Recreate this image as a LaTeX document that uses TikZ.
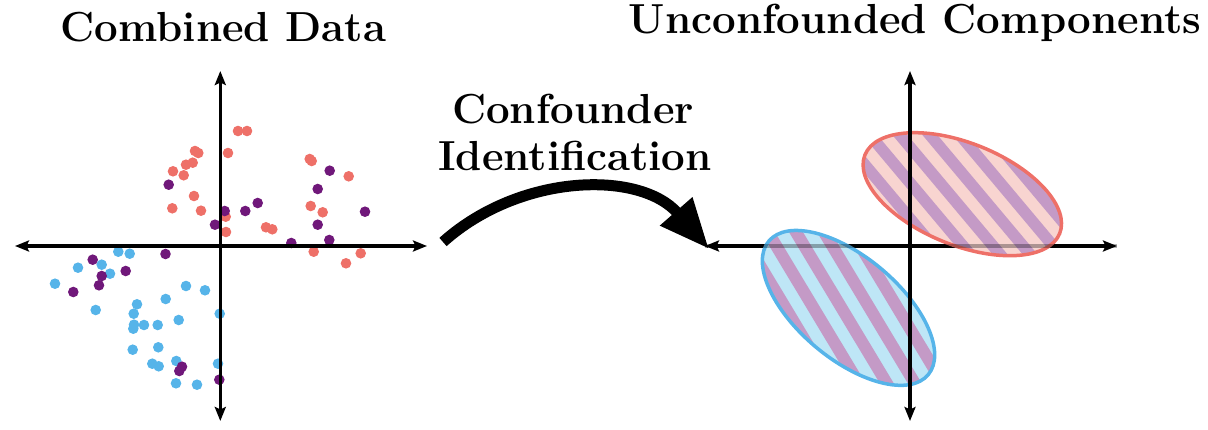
\documentclass[tikz,border=0pt]{standalone}
\usetikzlibrary{arrows.meta}
\definecolor{dred}{RGB}{238,112,104}
\definecolor{dblue}{RGB}{86,180,233}
\definecolor{dpurp}{RGB}{112,24,122}
\definecolor{pinkfill}{RGB}{248,212,208}
\definecolor{bluefill}{RGB}{190,230,246}
\definecolor{stripec}{RGB}{196,154,198}
\tikzset{
  axisline/.style={line width=3.2pt,{Stealth[length=14pt,width=11pt,inset=2.5pt]}-{Stealth[length=14pt,width=11pt,inset=2.5pt]}},
  titletext/.style={font=\fontsize{42}{48}\selectfont\bfseries,inner sep=0pt,anchor=base},
  dotr/.style={fill=dred},
  dotb/.style={fill=dblue},
  dotp/.style={fill=dpurp},
  stripe/.style={fill=stripec},
}
\begin{document}
\begin{tikzpicture}[x=1pt,y=-1pt]
\useasboundingbox (0,0) rectangle (1208,430);
% ---------- left: scatter ----------
\foreach \px/\py in {238/131,247/131,195/151,198.3/153,228/153,186/164.7,192.7/162.7,173/171.3,183.7/175.3,309.7/159,311.7/161,348.7/176.3,194/196,172.3/208.3,201/210.7,310.7/206,322.7/212.3,225.7/216.7,226/232,266/227.3,272.3/229.3,313.7/251.7,360.7/253.3,346/263.3}
  \fill[dotr] (\px,\py) circle[radius=5.3pt];
\foreach \px/\py in {118.3/251.7,129.7/253.7,101.7/264.7,78/267.7,110/273.7,55/283.7,186/286,205/290.3,165.7/299,137/304.3,95.7/310,133.7/313.7,219.7/313.7,178.7/320,134/324.7,144/325,157.7/325,133.3/328.7,132.7/349.7,158.3/347.3,176.3/361,152.3/363.7,158.7/366.3,218/363.7,176/383.3,197/384.7}
  \fill[dotb] (\px,\py) circle[radius=5.3pt];
\foreach \px/\py in {329.7/170.7,317.7/189,168.7/184.7,257.7/203,245.3/211,224.7/211,365/211.7,215/224.7,317.7/224.7,291.3/243,329.3/240,165.5/254,92.7/259.7,125.7/271,101.7/276,99/285.3,73.3/292,182/366.7,179.3/371,219.3/379.7}
  \fill[dotp] (\px,\py) circle[radius=5.3pt];
\coordinate (lxl) at (15,246);
\coordinate (lxr) at (427,246);
\coordinate (lyt) at (220.3,71);
\coordinate (lyb) at (220.3,421);
\draw[axisline] (lxl) -- (lxr);
\draw[axisline] (lyb) -- (lyt);
% ---------- right: components ----------
\coordinate (rxl) at (705,246);
\coordinate (rxr) at (1117,246);
\coordinate (ryt) at (910,71);
\coordinate (ryb) at (910,421);
\draw[axisline] (rxl) -- (rxr);
% red ellipse
\begin{scope}
  \clip[shift={(962.3,194.2)},rotate=-22] (0,0) ellipse[x radius=105pt,y radius=51pt];
  \fill[pinkfill] (840,120) rectangle (1090,275);
  \begin{scope}[shift={(962.3,194.2)},rotate=-50]
    \foreach \k in {-8,...,8} \fill[stripe] (-160,\k*23+4) rectangle (160,\k*23+15.5);
  \end{scope}
\end{scope}
\draw[dred,line width=3.5pt,shift={(962.3,194.2)},rotate=-22] (0,0) ellipse[x radius=105pt,y radius=51pt];
% blue ellipse
\begin{scope}
  \clip[shift={(848.5,307.9)},rotate=-40] (0,0) ellipse[x radius=104pt,y radius=51pt];
  \fill[bluefill] (740,220) rectangle (950,395);
  \begin{scope}[shift={(848.5,307.9)},rotate=-59]
    \foreach \k in {-8,...,8} \fill[stripe] (-160,\k*24) rectangle (160,\k*24+12);
  \end{scope}
\end{scope}
\draw[dblue,line width=3.5pt,shift={(848.5,307.9)},rotate=-40] (0,0) ellipse[x radius=104pt,y radius=51pt];
\draw[line width=3.2pt,draw opacity=0.3] (rxl) -- (rxr);
\draw[axisline] (ryb) -- (ryt);
% ---------- arrow ----------
\coordinate (as) at (443,242);
\coordinate (ae) at (709,249);
\draw[line width=11pt,-{Triangle[length=50pt,width=40pt]}] (as) .. controls (520,173) and (640,170) .. (ae);
% ---------- texts ----------
\node[titletext] (t1) at (223.5,42) {Combined Data};
\node[titletext] (t2) at (915,34) {Unconfounded Components};
\node[titletext] (t3) at (573,123.3) {Confounder};
\node[titletext] (t4) at (575,171) {Identification};
\end{tikzpicture}
\end{document}
